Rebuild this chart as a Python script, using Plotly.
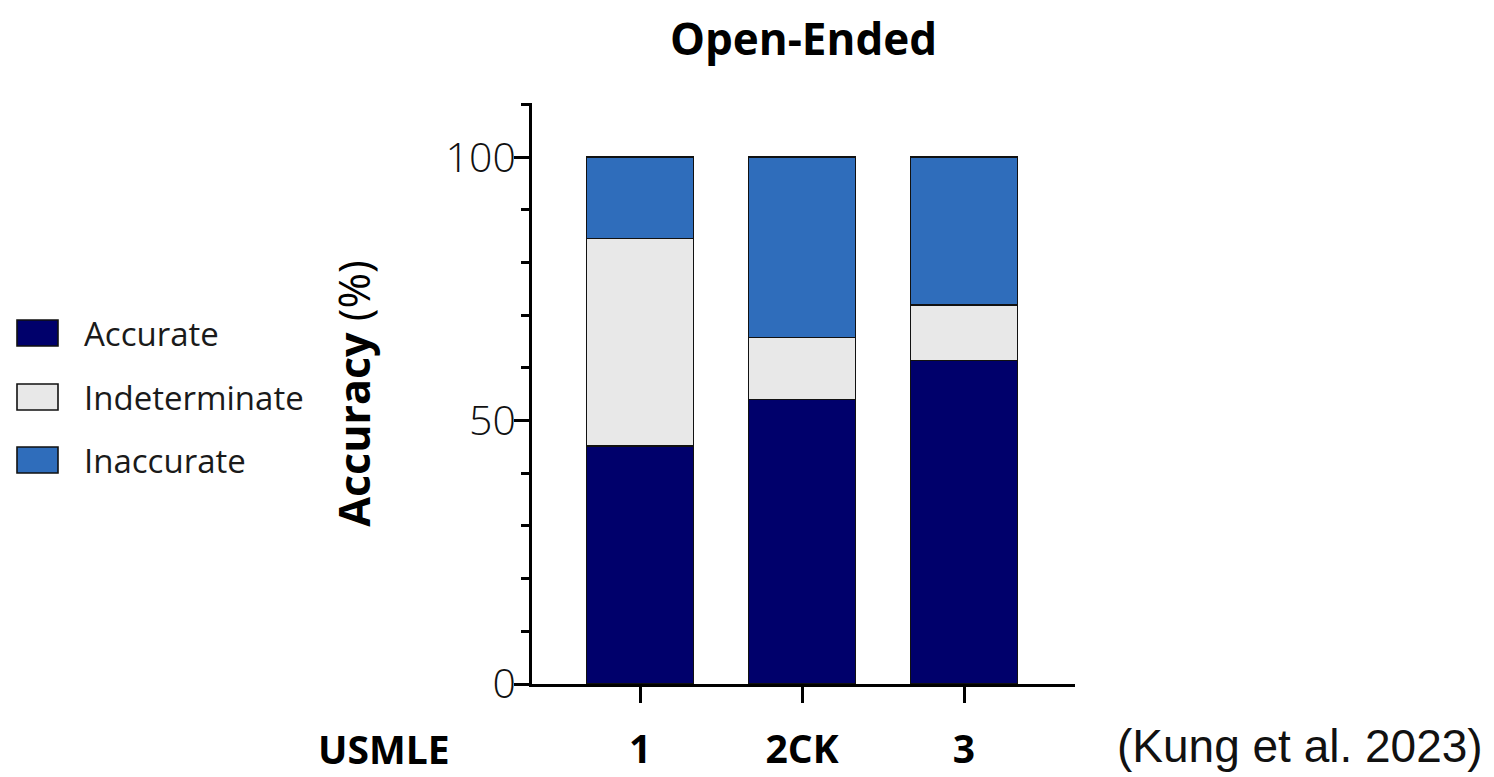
import plotly.graph_objects as go

categories = ["1", "2CK", "3"]
accurate = [45.2, 54.0, 61.4]
indeterminate = [39.4, 11.8, 10.5]
inaccurate = [15.4, 34.2, 28.1]
series_names = ["Accurate", "Indeterminate", "Inaccurate"]
series_colors = ["#00006B", "#E8E8E8", "#2F6DBB"]
y_ticks = [0, 50, 100]

OFF = 8                      # page body margin
SW, SH = 1494, 777           # screen size
W, H = SW - 2 * OFF, SH - OFF
L, R, T, B = 532, 1075, 103, 684   # plot area in screen pixels

def px(x):
    return (x - L) / (R - L)

def py(y):
    return (B - y) / (B - T)

fig = go.Figure()
for name, vals, col in zip(series_names, [accurate, indeterminate, inaccurate], series_colors):
    fig.add_trace(go.Bar(
        x=categories, y=vals, name=name, width=0.66,
        marker=dict(color=col, line=dict(color="#111111", width=1.6)),
        showlegend=False,
    ))

# manual legend (large square swatches)
legend_tops = [320, 384, 447]
for name, col, top in zip(series_names, series_colors, legend_tops):
    fig.add_shape(type="rect", xref="paper", yref="paper",
                  x0=px(17), x1=px(58), y0=py(top + 26), y1=py(top),
                  fillcolor=col, line=dict(color="#111111", width=1.6))
    fig.add_annotation(xref="paper", yref="paper", x=px(82), y=py(top + 13),
                       text=name, showarrow=False, xanchor="left", yanchor="middle",
                       font=dict(family="Open Sans", size=33, color="#1a1a1a"))

fig.add_annotation(xref="paper", yref="paper", x=px(384), y=py(748),
                   text="<b>USMLE</b>", showarrow=False, xanchor="center", yanchor="middle",
                   font=dict(family="Open Sans", size=39, color="black"))
fig.add_annotation(xref="paper", yref="paper", x=px(1300), y=py(746),
                   text="(Kung et al. 2023)", showarrow=False, xanchor="center", yanchor="middle",
                   font=dict(family="Liberation Sans", size=46, color="#111111"))

fig.update_layout(
    width=W, height=H,
    margin=dict(l=L - OFF, r=(SW - OFF) - R, t=T - OFF, b=(SH) - B, autoexpand=False),
    barmode="stack",
    plot_bgcolor="white", paper_bgcolor="white",
    title=dict(text="<b>Open-Ended</b>", x=0.5, xref="paper", y=1 - (40 - OFF) / H, yanchor="middle",
               font=dict(family="Open Sans", size=44, color="black")),
    showlegend=False,
)
fig.update_xaxes(
    type="category", range=[-0.667, 2.685], automargin=False,
    showline=True, linecolor="black", linewidth=3,
    ticks="outside", ticklen=16, tickwidth=3, tickcolor="black",
    tickfont=dict(family="Open Sans", size=39, color="black"),
    tickprefix="<b>", ticksuffix="</b>",
    ticklabelstandoff=13,
    showgrid=False, zeroline=False,
)
fig.update_yaxes(
    range=[0, 110.3], automargin=False,
    tickvals=y_ticks,
    showline=True, linecolor="black", linewidth=3,
    ticks="outside", ticklen=15, tickwidth=3, tickcolor="black",
    tickfont=dict(family="Open Sans", size=41, color="#111111", weight=300),
    ticklabelstandoff=-10,
    minor=dict(dtick=10, ticks="outside", ticklen=8, tickwidth=3, tickcolor="black", showgrid=False),
    title=dict(text="<b>Accuracy</b> (%)", standoff=62,
               font=dict(family="Open Sans", size=43, color="black")),
    showgrid=False, zeroline=False,
)

fig.write_html("out.html")
